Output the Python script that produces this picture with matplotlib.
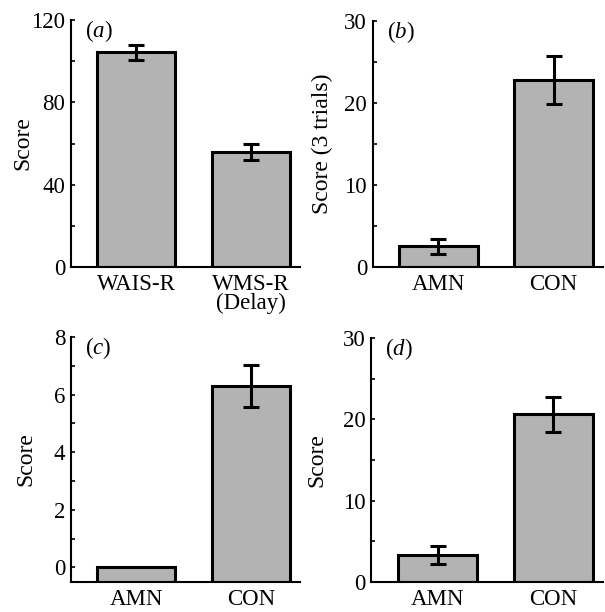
import matplotlib
matplotlib.use("Agg")
import matplotlib.pyplot as plt
import numpy as np

plt.rcParams['font.family'] = ['Liberation Serif', 'DejaVu Serif']
plt.rcParams['mathtext.fontset'] = 'custom'
plt.rcParams['mathtext.it'] = 'Liberation Serif:italic'
plt.rcParams['mathtext.rm'] = 'Liberation Serif'

# panel data
a_labels = ['WAIS-R', 'WMS-R\n(Delay)']
a_means = [104.3, 56.0]
a_errs = [3.7, 3.8]

b_labels = ['AMN', 'CON']
b_means = [2.5, 22.8]
b_errs = [0.95, 2.95]

c_labels = ['AMN', 'CON']
c_means = [0.0, 6.3]
c_errs = [0.0, 0.72]

d_labels = ['AMN', 'CON']
d_means = [3.3, 20.6]
d_errs = [1.1, 2.2]

fig = plt.figure(figsize=(6.05, 6.12), dpi=100)

panels = [
    # rect, labels, means, errs, ylim, major, minor, ylabel, tag, label x
    ([0.117, 0.564, 0.379, 0.403], a_labels, a_means, a_errs, (0, 120),
     [0, 40, 80, 120], np.arange(0, 121, 20), 'Score', 'a', -0.165),
    ([0.616, 0.564, 0.381, 0.401], b_labels, b_means, b_errs, (0, 30),
     [0, 10, 20, 30], np.arange(0, 31, 5), 'Score (3 trials)', 'b', -0.17),
    ([0.117, 0.0495, 0.379, 0.400], c_labels, c_means, c_errs, (-0.5, 8),
     [0, 2, 4, 6, 8], np.arange(0, 9, 1), 'Score', 'c', -0.15),
    ([0.614, 0.0495, 0.383, 0.398], d_labels, d_means, d_errs, (0, 30),
     [0, 10, 20, 30], np.arange(0, 31, 5), 'Score', 'd', -0.19),
]

for rect, labels, means, errs, ylim, major, minor, ylabel, tag, lx in panels:
    ax = fig.add_axes(rect)
    x = np.arange(len(labels))
    bottom = ylim[0]
    heights = [m - bottom for m in means]
    ax.bar(x, heights, bottom=bottom, width=0.68, color='#b3b3b3',
           edgecolor='black', linewidth=2.2, zorder=2)
    for xi, m, e in zip(x, means, errs):
        if e > 0:
            ax.errorbar(xi, m, yerr=e, fmt='none', ecolor='black',
                        elinewidth=2.2, capsize=6, capthick=2.2, zorder=3)
    ax.set_xlim(-0.57, 1.43)
    ax.set_ylim(*ylim)
    ax.set_yticks(major)
    ax.set_yticks(minor, minor=True)
    ax.set_xticks(x)
    ax.set_xticklabels(labels, fontsize=16.5, linespacing=0.85)
    ax.tick_params(axis='x', length=0, pad=5)
    ax.tick_params(axis='y', which='both', direction='in', length=3,
                   width=1.2, labelsize=16.5, pad=4)
    for s in ['top', 'right']:
        ax.spines[s].set_visible(False)
    for s in ['left', 'bottom']:
        ax.spines[s].set_linewidth(1.5)
    ax.set_ylabel(ylabel, fontsize=17)
    ax.yaxis.set_label_coords(lx, 0.5)
    ax.text(0.06, 0.955, r'($\mathit{%s}$)' % tag, transform=ax.transAxes,
            fontsize=16.5, ha='left', va='center')

fig.savefig('out.png', dpi=100)
